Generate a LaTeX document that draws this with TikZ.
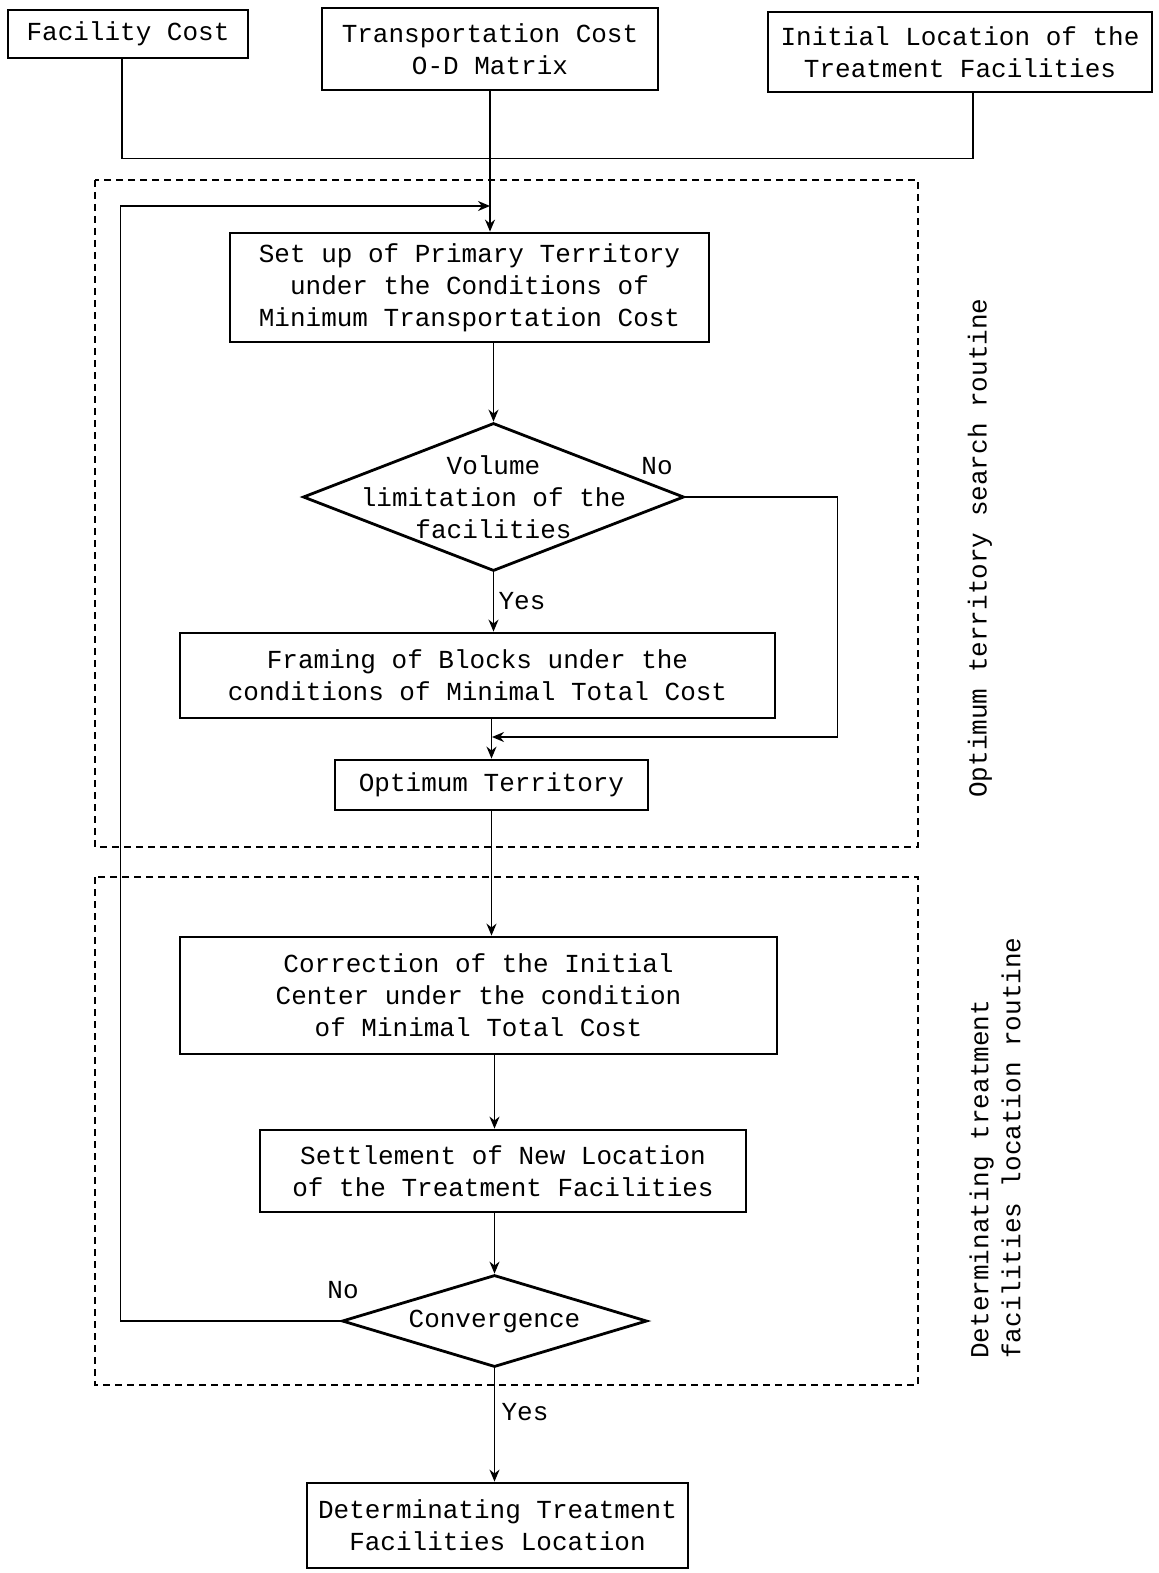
\documentclass[tikz,border=0pt]{standalone}
\usepackage{fontspec}
\usepackage{tikz}
\usetikzlibrary{arrows.meta,positioning,shapes.geometric,calc}
\newfontfamily\typew{Liberation Mono}

\begin{document}
\begin{tikzpicture}[
    x=0.5pt, y=-0.5pt,
    every node/.style={font=\typew\fontsize{13}{16}\selectfont},
    box/.style={draw, line width=1.4pt, align=center, inner sep=2pt},
    decide/.style={draw, diamond, line width=1.4pt, inner sep=0pt},
    line/.style={draw, line width=0.75pt},
    arr/.style={line, -{Stealth[length=6pt,width=5pt]}},
    routine/.style={draw, line width=0.9pt, dash pattern=on 3.5pt off 2.5pt}
]
    \useasboundingbox (0,0) rectangle (1159,1573);

    % inputs
    \node[box, minimum width=120pt, minimum height=24pt] (fc) at (128,34) {Facility Cost};
    \node[box, minimum width=168pt, minimum height=41pt] (tc) at (490,49) {Transportation Cost\\O-D Matrix};
    \node[box, minimum width=192pt, minimum height=40pt] (il) at (960,52) {Initial Location of the\\Treatment Facilities};

    % routine frames
    \draw[routine] (95,180) rectangle (918,847);
    \draw[routine] (95,877) rectangle (918,1385);
    \node[rotate=90] (lab1) at (980,548) {Optimum territory search routine};
    \node[rotate=90, align=left] (lab2) at (995,1148) {Determinating treatment\\facilities location routine};

    % territory search
    \node[box, minimum width=239.5pt, minimum height=54.5pt] (su) at (469.5,287.5) {Set up of Primary Territory\\under the Conditions of\\Minimum Transportation Cost};
    \node[decide, minimum width=190.5pt, minimum height=74pt] (vol) at (493.5,497) {};
    \node (volt) at (vol.center) [align=center] {Volume\\limitation of the\\facilities};
    \node[box, minimum width=297.5pt, minimum height=42.5pt] (fr) at (477.5,675.5) {Framing of Blocks under the\\conditions of Minimal Total Cost};
    \node[box, minimum width=156.5pt, minimum height=25pt] (ot) at (491.5,785) {Optimum Territory};

    % location routine
    \node[box, minimum width=298.5pt, minimum height=58.5pt] (co) at (478.5,995.5) {Correction of the Initial\\Center under the condition\\of Minimal Total Cost};
    \node[box, minimum width=243pt, minimum height=41pt] (se) at (503,1171) {Settlement of New Location\\of the Treatment Facilities};
    \node[decide, minimum width=152.5pt, minimum height=46pt] (cv) at (494.5,1321) {};
    \node (cvt) at (cv.center) {Convergence};
    \node[box, minimum width=190.5pt, minimum height=42.5pt] (fi) at (497.5,1525.5) {Determinating Treatment\\Facilities Location};

    % answers
    \node (no1) at (657,466) {No};
    \node (yes1) at (522,601) {Yes};
    \node (no2) at (343,1290) {No};
    \node (yes2) at (525,1412) {Yes};

    \coordinate (loopin) at (490,206);
    \coordinate (nojoin) at (492,737);

    % input lines
    \draw[line] ($(fc.south)+(-6,0)$) -- ($(fc.south)+(-6,99)$) -| ($(il.south)+(13,0)$);
    \draw[arr] (tc.south) -- (tc.south |- su.north);

    % search flow
    \draw[arr] (su.south -| vol.north) -- (vol.north);
    \draw[arr] (vol.south) -- (vol.south |- fr.north);
    \draw[arr] (fr.south -| ot.north) -- (ot.north);
    \draw[arr] (vol.east) -- ++(152,0) |- (nojoin);

    % location flow
    \draw[arr] (ot.south) -- (ot.south |- co.north);
    \draw[arr] (co.south -| cv.north) -- (cv.north |- se.north);
    \draw[arr] (se.south -| cv.north) -- (cv.north);
    \draw[arr] (cv.south) -- (cv.south |- fi.north);

    % back to the search routine
    \draw[arr] (cv.west) -- ++(-220,0) |- (loopin);
\end{tikzpicture}
\end{document}
